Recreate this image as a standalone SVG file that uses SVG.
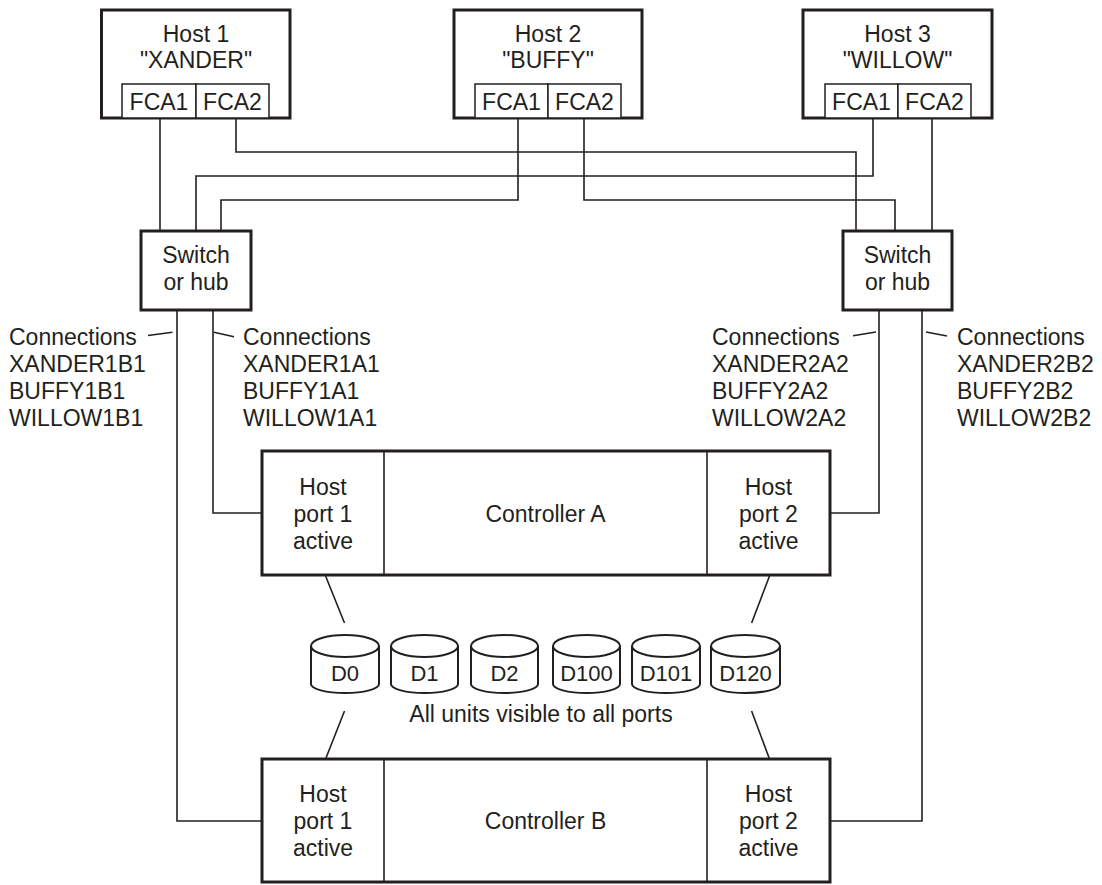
<svg xmlns="http://www.w3.org/2000/svg" width="1102" height="885" viewBox="0 0 1102 885">
<style>
text{font-family:"Liberation Sans",Arial,sans-serif;font-size:23px;fill:#231f20}
.c{text-anchor:middle}
.box{fill:#fff;stroke:#231f20;stroke-width:3}
.sub{fill:#fff;stroke:#231f20;stroke-width:1.5}
.ln{fill:none;stroke:#231f20;stroke-width:1.6}
.disk{fill:#fff;stroke:#231f20;stroke-width:2}
.dl{font-size:22px}
</style>
<rect width="1102" height="885" fill="#fff"/>
<g id="connectors">
<path class="ln" d="M160,118V231"/>
<path class="ln" d="M236,118V152H856V231"/>
<path class="ln" d="M518,118V200H221V231"/>
<path class="ln" d="M584,118V200H895V231"/>
<path class="ln" d="M873,118V176H196V231"/>
<path class="ln" d="M932,118V231"/>
<path class="ln" d="M213,310V513H262"/>
<path class="ln" d="M177,310V821H262"/>
<path class="ln" d="M879,310V513H830"/>
<path class="ln" d="M922,310V821H830"/>
<path class="ln" d="M148,335.5L172.5,332.3M214,332.3L234,336.7M853,335.7L876,332M926,332L947,336"/>
<path class="ln" d="M325.6,576L344.5,623M769.5,576L751.6,623M344.5,711L325.6,759M751.6,711L769.5,759"/>
</g>
<g id="host1">
<rect class="box" x="101.5" y="10" width="188.5" height="108"/>
<rect class="sub" x="122" y="84" width="74" height="34"/>
<rect class="sub" x="196" y="84" width="73" height="34"/>
<text class="c" x="196" y="42">Host 1</text>
<text class="c" x="196" y="68">"XANDER"</text>
<text class="c" x="159" y="110">FCA1</text>
<text class="c" x="232.5" y="110">FCA2</text>
</g>
<g id="host2">
<rect class="box" x="454" y="10" width="188" height="108"/>
<rect class="sub" x="475" y="84" width="73" height="34"/>
<rect class="sub" x="548" y="84" width="73" height="34"/>
<text class="c" x="548" y="42">Host 2</text>
<text class="c" x="548" y="68">"BUFFY"</text>
<text class="c" x="511.5" y="110">FCA1</text>
<text class="c" x="584.5" y="110">FCA2</text>
</g>
<g id="host3">
<rect class="box" x="803" y="10" width="189" height="108"/>
<rect class="sub" x="825" y="84" width="73" height="34"/>
<rect class="sub" x="898" y="84" width="73" height="34"/>
<text class="c" x="897.5" y="42">Host 3</text>
<text class="c" x="897.5" y="68">"WILLOW"</text>
<text class="c" x="861.5" y="110">FCA1</text>
<text class="c" x="934.5" y="110">FCA2</text>
</g>
<g id="switch1">
<rect class="box" x="141" y="231" width="110" height="79"/>
<text class="c" x="196" y="263">Switch</text>
<text class="c" x="196" y="290">or hub</text>
</g>
<g id="switch2">
<rect class="box" x="843" y="231" width="109" height="79"/>
<text class="c" x="897.5" y="263">Switch</text>
<text class="c" x="897.5" y="290">or hub</text>
</g>
<g id="labels">
<text x="9" y="345">Connections</text>
<text x="9" y="372">XANDER1B1</text>
<text x="9" y="399">BUFFY1B1</text>
<text x="9" y="426">WILLOW1B1</text>
<text x="243" y="345">Connections</text>
<text x="243" y="372">XANDER1A1</text>
<text x="243" y="399">BUFFY1A1</text>
<text x="243" y="426">WILLOW1A1</text>
<text x="712" y="345">Connections</text>
<text x="712" y="372">XANDER2A2</text>
<text x="712" y="399">BUFFY2A2</text>
<text x="712" y="426">WILLOW2A2</text>
<text x="957" y="345">Connections</text>
<text x="957" y="372">XANDER2B2</text>
<text x="957" y="399">BUFFY2B2</text>
<text x="957" y="426">WILLOW2B2</text>
</g>
<g id="controllerA">
<rect class="box" x="262" y="451" width="568" height="124"/>
<path class="ln" d="M384,451V575M707,451V575"/>
<text class="c" x="323" y="495">Host</text>
<text class="c" x="323" y="522">port 1</text>
<text class="c" x="323" y="549">active</text>
<text class="c" x="545.5" y="522">Controller A</text>
<text class="c" x="768.5" y="495">Host</text>
<text class="c" x="768.5" y="522">port 2</text>
<text class="c" x="768.5" y="549">active</text>
</g>
<g id="disks">
<g id="d0"><path class="disk" d="M311,646V684A34,9 0 0 0 379,684V646"/><ellipse class="disk" cx="345" cy="646" rx="34" ry="11"/><text class="c dl" x="345" y="681">D0</text></g>
<g id="d1"><path class="disk" d="M391,646V684A33.5,9 0 0 0 458,684V646"/><ellipse class="disk" cx="424.5" cy="646" rx="33.5" ry="11"/><text class="c dl" x="424.5" y="681">D1</text></g>
<g id="d2"><path class="disk" d="M471,646V684A33.5,9 0 0 0 538,684V646"/><ellipse class="disk" cx="504.5" cy="646" rx="33.5" ry="11"/><text class="c dl" x="504.5" y="681">D2</text></g>
<g id="d100"><path class="disk" d="M553,646V684A33.5,9 0 0 0 620,684V646"/><ellipse class="disk" cx="586.5" cy="646" rx="33.5" ry="11"/><text class="c dl" x="586.5" y="681">D100</text></g>
<g id="d101"><path class="disk" d="M632,646V684A34,9 0 0 0 700,684V646"/><ellipse class="disk" cx="666" cy="646" rx="34" ry="11"/><text class="c dl" x="666" y="681">D101</text></g>
<g id="d120"><path class="disk" d="M711,646V684A34.5,9 0 0 0 780,684V646"/><ellipse class="disk" cx="745.5" cy="646" rx="34.5" ry="11"/><text class="c dl" x="745.5" y="681">D120</text></g>
<text class="c" x="541" y="722">All units visible to all ports</text>
</g>
<g id="controllerB">
<rect class="box" x="262" y="759" width="568" height="123"/>
<path class="ln" d="M384,759V882M707,759V882"/>
<text class="c" x="323" y="802">Host</text>
<text class="c" x="323" y="829">port 1</text>
<text class="c" x="323" y="856">active</text>
<text class="c" x="545.5" y="829">Controller B</text>
<text class="c" x="768.5" y="802">Host</text>
<text class="c" x="768.5" y="829">port 2</text>
<text class="c" x="768.5" y="856">active</text>
</g>
</svg>
